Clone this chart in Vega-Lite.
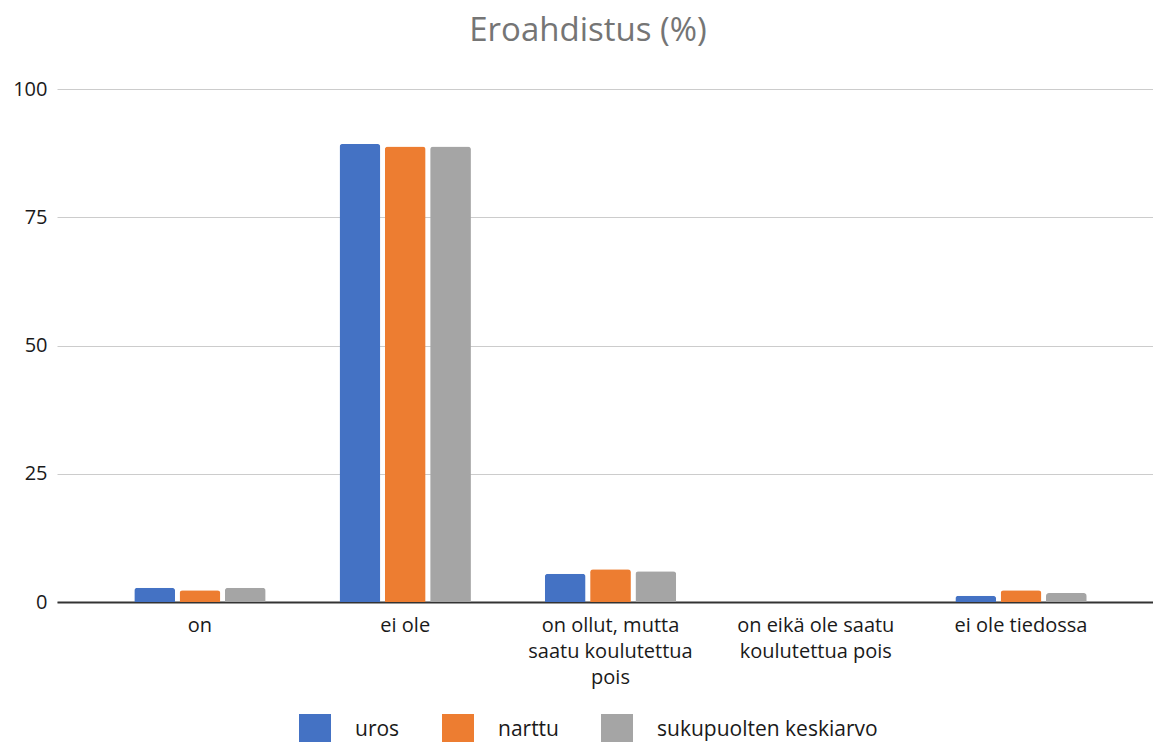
{
  "$schema": "https://vega.github.io/schema/vega-lite/v6.json",
  "autosize": {"type": "none"},
  "padding": {"left": 57, "top": 89, "right": 0, "bottom": 140},
  "width": 1096,
  "height": 513,
  "background": "white",
  "title": {
    "text": "Eroahdistus (%)",
    "fontSize": 33,
    "font": "Open Sans",
    "fontWeight": "normal",
    "color": "#757575",
    "anchor": "middle",
    "dx": -17,
    "offset": 31
  },
  "data": {
    "values": [
      {"kategoria": "on", "sarja": "uros", "arvo": 2.8},
      {"kategoria": "on", "sarja": "narttu", "arvo": 2.3},
      {"kategoria": "on", "sarja": "sukupuolten keskiarvo", "arvo": 2.8},
      {"kategoria": "ei ole", "sarja": "uros", "arvo": 89.3},
      {"kategoria": "ei ole", "sarja": "narttu", "arvo": 88.8},
      {"kategoria": "ei ole", "sarja": "sukupuolten keskiarvo", "arvo": 88.8},
      {"kategoria": "on ollut, mutta saatu koulutettua pois", "sarja": "uros", "arvo": 5.5},
      {"kategoria": "on ollut, mutta saatu koulutettua pois", "sarja": "narttu", "arvo": 6.4},
      {"kategoria": "on ollut, mutta saatu koulutettua pois", "sarja": "sukupuolten keskiarvo", "arvo": 6.0},
      {"kategoria": "on eikä ole saatu koulutettua pois", "sarja": "uros", "arvo": 0},
      {"kategoria": "on eikä ole saatu koulutettua pois", "sarja": "narttu", "arvo": 0},
      {"kategoria": "on eikä ole saatu koulutettua pois", "sarja": "sukupuolten keskiarvo", "arvo": 0},
      {"kategoria": "ei ole tiedossa", "sarja": "uros", "arvo": 1.2},
      {"kategoria": "ei ole tiedossa", "sarja": "narttu", "arvo": 2.3},
      {"kategoria": "ei ole tiedossa", "sarja": "sukupuolten keskiarvo", "arvo": 1.75}
    ]
  },
  "mark": {"type": "bar", "cornerRadiusTopLeft": 3, "cornerRadiusTopRight": 3},
  "encoding": {
    "x": {
      "field": "kategoria",
      "type": "nominal",
      "sort": ["on", "ei ole", "on ollut, mutta saatu koulutettua pois", "on eikä ole saatu koulutettua pois", "ei ole tiedossa"],
      "scale": {"range": [0, 1107], "paddingInner": 0.36, "paddingOuter": 0.3765},
      "axis": {
        "title": null,
        "labelAngle": 0,
        "labelExpr": "datum.label == 'on ollut, mutta saatu koulutettua pois' ? ['on ollut, mutta', 'saatu koulutettua', 'pois'] : datum.label == 'on eikä ole saatu koulutettua pois' ? ['on eikä ole saatu', 'koulutettua pois'] : datum.label",
        "labelFontSize": 20,
        "labelFont": "Open Sans",
        "labelColor": "#1a1a1a",
        "labelLineHeight": 26,
        "labelPadding": 13,
        "labelLimit": 300,
        "ticks": false,
        "domainColor": "#333333",
        "domainWidth": 2,
        "grid": false
      }
    },
    "xOffset": {
      "field": "sarja",
      "type": "nominal",
      "sort": ["uros", "narttu", "sukupuolten keskiarvo"],
      "scale": {"paddingInner": 0.1}
    },
    "y": {
      "field": "arvo",
      "type": "quantitative",
      "scale": {"domain": [0, 100]},
      "axis": {
        "title": null,
        "values": [0, 25, 50, 75, 100],
        "labelFontSize": 20,
        "labelFont": "Open Sans",
        "labelColor": "#1a1a1a",
        "labelPadding": 10,
        "ticks": false,
        "domain": false,
        "gridColor": "#cccccc",
        "gridWidth": 1
      }
    },
    "color": {
      "field": "sarja",
      "type": "nominal",
      "sort": ["uros", "narttu", "sukupuolten keskiarvo"],
      "scale": {
        "domain": ["uros", "narttu", "sukupuolten keskiarvo"],
        "range": ["#4472C4", "#ED7D31", "#A5A5A5"]
      },
      "legend": {
        "title": null,
        "orient": "none",
        "direction": "horizontal",
        "legendX": 242,
        "legendY": 625,
        "symbolType": "square",
        "symbolSize": 1024,
        "symbolStrokeWidth": 0,
        "labelFontSize": 21,
        "labelFont": "Open Sans",
        "labelColor": "#1a1a1a",
        "labelOffset": 24,
        "labelLimit": 400,
        "columnPadding": 42
      }
    }
  },
  "config": {"view": {"stroke": null}}
}
